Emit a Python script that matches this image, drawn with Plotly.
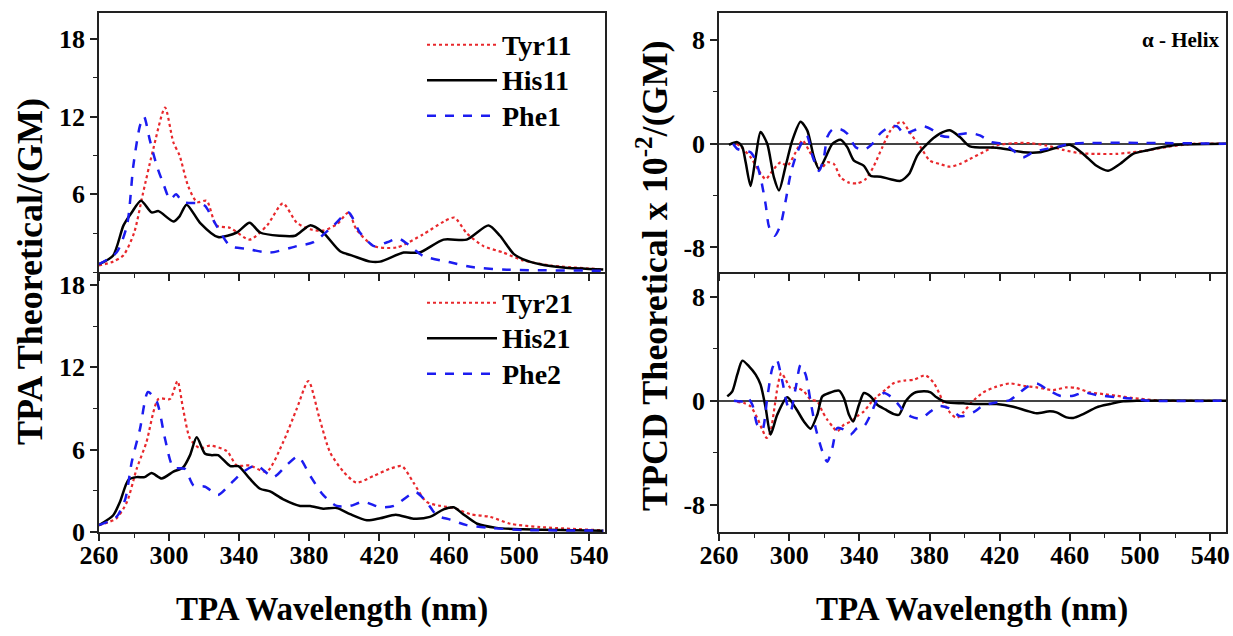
import plotly.graph_objects as go

# ---------------- data (TPA, left column) ----------------
tyr11_x = [260,268,274,280,285,291,297.7,302.5,306,311,316,321.5,327,335,346,356,365,373,380.5,388,396,402.5,407,417,430,445,457,463,470,479.6,491,502,518,548]
tyr11_y = [0.5,0.8,1.3,3,6,9.5,12.7,10,9,6.6,5.4,5.5,3.6,3.4,2.5,3.6,5.3,3.8,3.3,3.2,3.7,4.6,3.3,2.0,1.9,2.9,3.9,4.2,3.0,2.0,1.5,0.9,0.5,0.2]
his11_x = [260,268,274,278.7,284,290,294,302.5,306,310,317.7,328,338.7,346,352,363,372,380.5,388,397.7,405,415,420.6,434,443,456.8,470,482.5,489,496.8,502,512,525,548]
his11_y = [0.6,1.25,3.6,4.6,5.5,4.6,4.7,3.9,4.3,5.2,3.8,2.7,3.05,3.8,3.05,2.8,2.8,3.6,3.05,1.6,1.25,0.8,0.8,1.5,1.5,2.5,2.5,3.6,2.8,1.4,1.0,0.6,0.35,0.2]
phe1_x = [260,270,276,279.6,283.4,285.7,289,293,296.8,300.6,304,308,317.7,320.6,327,335,344,357.7,373,382.5,394,402.5,409,417,424.6,431,437.7,445,460.6,474,493,548]
phe1_y = [0.6,1.5,3.6,8.2,11.3,12.0,10.2,8.2,6.8,5.6,6.0,5.4,5.3,5.1,3.6,2.0,1.8,1.5,2.0,2.3,3.6,4.6,3.05,2.0,2.3,2.6,2.0,1.25,0.75,0.36,0.18,0.1]

tyr21_x = [260,270,276,281.5,287,294,300.6,304.8,308,312,317.7,323.4,333,338.7,346,355.8,365,373,379.6,386,392,399.6,407,417,426,433,439.6,447,455,462.6,472,483.4,495,512,548]
tyr21_y = [0.5,1.0,2.2,4.6,6.5,9.7,9.7,11.0,9.0,6.8,6.1,6.3,5.9,4.85,4.85,4.4,6.5,9.0,11.0,8.25,5.8,4.4,3.6,4.1,4.6,4.8,3.6,2.2,1.9,1.75,1.3,1.1,0.6,0.36,0.12]
his21_x = [260,268,272,276.8,281.5,286,290,295.8,302.5,308,312,315.8,320.6,324.4,328,335,339.6,346,352,357.7,365,374.9,380.6,388,395.8,403.4,413,420.6,429.5,439.6,449,456.8,462.6,468,476,487,502,548]
his21_y = [0.5,1.2,2.2,3.8,4.0,4.0,4.3,3.9,4.4,4.7,5.6,6.9,5.7,5.6,5.6,4.8,4.8,3.9,3.15,2.96,2.4,1.9,1.9,1.7,1.75,1.3,0.85,1.0,1.26,0.97,1.1,1.65,1.8,1.3,0.6,0.3,0.2,0.1]
phe2_x = [260,270,275,278.7,283.4,288,293,297.7,302.5,309,314,320.6,328,335,342.5,350,359.5,367,373.7,380.6,388,395.8,403.4,411,420.6,428.4,440.8,447,453,460.6,470,483.4,502,548]
phe2_y = [0.5,1.1,2.4,5.1,7.5,10.2,9.5,6.8,4.7,4.6,3.4,3.3,2.7,3.5,4.4,4.85,4.0,4.85,5.5,4.1,2.7,1.9,1.9,2.2,1.8,1.9,2.9,2.2,1.2,0.9,0.5,0.3,0.15,0.1]

# ---------------- data (TPCD, right column, x 10^-2) ----------------
cd_his1_x = [265.7,270.4,273.3,275.2,278,280.9,283.7,287.5,291.3,294.2,298,301.8,306.5,310.3,314.1,317,320.8,324.6,329.3,333.1,336.9,342.6,346.4,352.1,357.8,363.5,368.3,373,378.7,385.9,391.6,397.3,403,418.2,425.8,433.4,442.9,452.4,460,467.6,475.2,481.8,488.5,496,503.7,520,549]
cd_his1_y = [-0.08,0.13,-0.26,-1.43,-3.26,-1.04,0.91,0,-2.6,-3.6,-1.7,0.26,1.7,1.04,-1.04,-1.95,-1.04,0,0.31,-0.26,-1.3,-1.7,-2.47,-2.55,-2.73,-2.86,-2.34,-0.91,0,0.78,1.04,0.52,-0.2,-0.3,-0.47,-0.65,-0.65,-0.3,-0.08,-0.78,-1.7,-2.08,-1.56,-0.78,-0.52,-0.1,0]
cd_phe1_x = [268,270.4,273.3,278,280.9,283.7,286.6,288.5,291.7,295.1,298,300.8,304.6,310,313.2,317,319.8,321.7,324.6,329.3,333.1,337.9,342.6,347.4,352.1,357.8,361.6,365.4,371.1,376.8,382.5,385.9,391.6,397.3,403,408.7,415.3,422,427.7,433.4,439.1,446.7,454.3,460,549]
cd_phe1_y = [0,-0.39,-0.52,-0.65,-1.3,-2.6,-4.7,-6.4,-7.1,-6.25,-4.4,-2.34,-0.65,0.65,-0.91,-2.1,-1.04,0.52,1.1,1.12,0.78,-0.26,-0.47,0,0.83,1.35,1.35,0.78,1.04,1.35,1.0,0.65,0.52,0.73,0.83,0.65,0.13,0,-0.52,-1.04,-0.65,-0.39,-0.2,0,0]
cd_tyr1_x = [270,272.3,278,282.8,286.6,290.4,295.1,298.9,303.7,307.5,311.3,315.1,317.9,321.7,325.5,329.3,334.1,338.8,343.6,348.3,353.1,357.8,361.6,364.5,369.2,374.9,380.2,385.9,391.6,397.3,403,410.6,418.2,427.7,437.2,446.7,456.2,465.7,475.2,486.6,496,503.7,515,530,549]
cd_tyr1_y = [0,-0.2,-1.04,-2.1,-2.73,-2.1,-1.43,-1.7,-0.65,0.26,-0.52,-1.43,-1.95,-1.43,-1.56,-2.6,-3.0,-3.05,-2.73,-1.7,-0.26,1.04,1.56,1.7,0.78,-0.26,-1.3,-1.56,-1.77,-1.56,-1.17,-0.65,-0.13,0.05,0.05,-0.13,-0.47,-0.73,-0.78,-0.78,-0.65,-0.52,-0.25,0,0]

cd_his2_x = [264.7,267.6,270.4,273.3,277.1,280.9,283.7,286.6,289.4,293.2,298.9,303.7,308.4,312.2,316,318.9,322.7,328.4,331.2,334.1,336.5,339.8,342.6,346.4,350.2,355,359.7,362.6,366.4,371.1,376.8,380.6,384,389.7,399.2,408.7,418.2,427.7,435.3,441,448.6,452.4,458.1,461.9,467.6,475.2,482.8,490.4,498,549]
cd_his2_y = [0.33,0.72,2.0,3.08,2.64,2.0,1.23,-0.56,-2.6,-1.08,0.26,-0.56,-1.6,-2.15,-1.08,0.33,0.59,0.77,0.2,-1.08,-1.6,-0.31,0.59,0.33,-0.31,-0.69,-1.03,-1.08,-0.05,0.59,0.72,0.64,0.26,-0.13,-0.2,-0.26,-0.26,-0.46,-0.77,-0.97,-0.82,-0.9,-1.28,-1.33,-1.03,-0.51,-0.26,-0.05,0,0]
cd_phe2_x = [268.5,273.3,276.1,279,281.8,284.7,287.5,290.4,292.9,296.1,298.9,300.8,303.7,306.5,309.4,312.2,315.1,318.9,321.7,324.6,327.4,331.2,335,338.8,342.6,346.4,350.2,354,357.8,361.6,365.4,369.2,374.9,380.6,385.4,391,397.6,404.9,410.6,418.2,425.8,431.5,435.3,441,446.7,454.3,461.9,467.6,475.2,486.6,498,505,549]
cd_phe2_y = [0,-0.05,0.26,-0.31,-1.85,-2.23,0.2,2.5,3.15,1.49,-0.31,-0.82,0.97,2.77,2.0,-0.05,-2.1,-3.9,-4.7,-3.64,-2.1,-2.23,-2.6,-2.1,-1.97,-1.08,0.08,0.59,0.33,-0.18,-0.82,-1.2,-1.38,-0.82,-0.4,-0.57,-1.2,-0.9,-0.38,-0.13,0.05,0.64,1.03,1.33,0.9,0.38,0.38,0.64,0.44,0.26,0.13,0,0]
cd_tyr2_x = [270.4,274.2,278,281.8,284.7,287.2,289.4,291.3,293.6,295.5,298,300.8,304.6,308.4,312.2,316,318.9,321.7,324.6,327.4,331.2,335,338.8,342.6,346.4,350.2,355,359.7,365.4,371.1,377.7,382.5,385.9,387.8,391.6,395.4,399.2,404,410.6,418.2,425.8,433.4,441,450.5,458.1,463.8,471.4,479,486.6,496.1,503.7,512,549]
cd_tyr2_y = [-0.1,-0.18,-0.44,-1.33,-2.23,-2.87,-2.36,-0.82,1.23,2.13,1.62,0.97,0.97,0.72,0.08,-0.05,-0.82,-1.46,-1.97,-2.36,-1.85,-1.6,-1.2,-0.82,-0.18,0.33,0.85,1.36,1.54,1.62,1.95,1.36,0.46,-0.13,-0.9,-1.33,-0.9,-0.13,0.64,1.08,1.33,1.15,1.03,0.82,1.03,0.97,0.64,0.51,0.38,0.2,0.1,0,0]

x_ticks = [260, 300, 340, 380, 420, 460, 500, 540]
tpa_ticks_top = [6, 12, 18]
tpa_ticks = [0, 6, 12, 18]
tpcd_ticks = [-8, 0, 8]

# ---------------- styles ----------------
FONT = "Liberation Serif"
RED, BLACK, BLUE = "#e8282c", "#000000", "#1c1cf0"
sty = {
    "Tyr": dict(color=RED, dash="dot", width=2.2),
    "His": dict(color=BLACK, dash="solid", width=2.5),
    "Phe": dict(color=BLUE, dash="dash", width=2.5),
}

fig = go.Figure()

def add(x, y, kind, name, xa, ya, legend=None):
    label = "<span style='font-size:28px'>%s</span>" % name
    fig.add_trace(go.Scatter(
        x=x, y=y, mode="lines", name=label,
        line=dict(shape="spline", smoothing=0.7, **sty[kind]),
        xaxis=xa, yaxis=ya,
        showlegend=legend is not None, legend=legend or "legend",
    ))

add(tyr11_x, tyr11_y, "Tyr", "Tyr11", "x", "y", "legend")
add(his11_x, his11_y, "His", "His11", "x", "y", "legend")
add(phe1_x, phe1_y, "Phe", "Phe1", "x", "y", "legend")
add(tyr21_x, tyr21_y, "Tyr", "Tyr21", "x2", "y2", "legend2")
add(his21_x, his21_y, "His", "His21", "x2", "y2", "legend2")
add(phe2_x, phe2_y, "Phe", "Phe2", "x2", "y2", "legend2")
add(cd_tyr1_x, cd_tyr1_y, "Tyr", "Tyr11", "x3", "y3")
add(cd_his1_x, cd_his1_y, "His", "His11", "x3", "y3")
add(cd_phe1_x, cd_phe1_y, "Phe", "Phe1", "x3", "y3")
add(cd_tyr2_x, cd_tyr2_y, "Tyr", "Tyr21", "x4", "y4")
add(cd_his2_x, cd_his2_y, "His", "His21", "x4", "y4")
add(cd_phe2_x, cd_phe2_y, "Phe", "Phe2", "x4", "y4")

W, H = 1233, 636
def px(v): return v / W
def py(v): return (H - v) / H

LEFT = [px(99), px(605)]
RIGHT = [px(719), px(1226)]
TOP = [py(272), py(13)]
BOT = [py(532), py(272)]

tickfont = dict(family=FONT, size=26, color="black", weight="bold")
axcommon = dict(showline=True, linecolor="#222", linewidth=1.5,
                ticks="outside", ticklen=7, tickwidth=1.5, tickcolor="#222",
                showgrid=False, tickfont=tickfont, automargin=False)

def bold(vals):
    return ["<b>%s</b>" % v for v in vals]

def xax(domain, anchor, labels, mirror):
    return dict(domain=domain, anchor=anchor, range=[260, 549], mirror=mirror,
                tickmode="array", tickvals=x_ticks, ticktext=bold(x_ticks),
                showticklabels=labels, zeroline=False, ticklabelstandoff=-8,
                minor=dict(ticks="outside", ticklen=4, tickwidth=1.2, dtick=20, tick0=260, tickcolor="#222"),
                **axcommon)

def yax(domain, anchor, rng, vals, mdt, zl):
    return dict(domain=domain, anchor=anchor, range=rng, mirror=True,
                tickmode="array", tickvals=vals, ticktext=bold(vals),
                zeroline=zl, zerolinecolor="#444", zerolinewidth=1.6,
                minor=dict(ticks="outside", ticklen=4, tickwidth=1.2, dtick=mdt, tick0=0, tickcolor="#222"),
                **axcommon)

legfont = dict(family=FONT, size=25, color="black", weight="bold")
fig.update_layout(
    width=W, height=H,
    margin=dict(l=0, r=0, t=0, b=0),
    paper_bgcolor="white", plot_bgcolor="white",
    font=dict(family=FONT, color="black", weight="bold"),
    xaxis=xax(LEFT, "y", False, True),
    yaxis=yax(TOP, "x", [0, 20], tpa_ticks_top, 3, False),
    xaxis2=xax(LEFT, "y2", True, False),
    yaxis2=yax(BOT, "x2", [0, 18.95], tpa_ticks, 3, False),
    xaxis3=xax(RIGHT, "y3", False, True),
    yaxis3=yax(TOP, "x3", [-9.9, 10.1], tpcd_ticks, 4, True),
    xaxis4=xax(RIGHT, "y4", True, False),
    yaxis4=yax(BOT, "x4", [-10.1, 9.9], tpcd_ticks, 4, True),
    legend=dict(x=px(422), y=py(22), xanchor="left", yanchor="top",
                bgcolor="rgba(0,0,0,0)", font=legfont, itemwidth=70, tracegroupgap=0),
    legend2=dict(x=px(422), y=py(280), xanchor="left", yanchor="top",
                 bgcolor="rgba(0,0,0,0)", font=legfont, itemwidth=70, tracegroupgap=0),
    showlegend=True,
)

title_font = dict(family=FONT, size=33, color="black", weight="bold")
vtitle_font = dict(family=FONT, size=36, color="black", weight="bold")
fig.add_annotation(text="TPA Theoretical/(GM)", xref="paper", yref="paper",
                   x=px(30), y=py(272), xanchor="center", yanchor="middle",
                   textangle=-90, showarrow=False, font=vtitle_font)
fig.add_annotation(text="TPCD Theoretical x 10<sup>-2</sup>/(GM)", xref="paper", yref="paper",
                   x=px(652), y=py(275), xanchor="center", yanchor="middle",
                   textangle=-90, showarrow=False, font=vtitle_font)
fig.add_annotation(text="TPA Wavelength (nm)", xref="paper", yref="paper",
                   x=px(332), y=py(609), xanchor="center", yanchor="middle",
                   showarrow=False, font=title_font)
fig.add_annotation(text="TPA Wavelength (nm)", xref="paper", yref="paper",
                   x=px(972), y=py(609), xanchor="center", yanchor="middle",
                   showarrow=False, font=title_font)
fig.add_annotation(text="α - Helix", xref="paper", yref="paper",
                   x=px(1181), y=py(40), xanchor="center", yanchor="middle",
                   showarrow=False, font=dict(family=FONT, size=21, color="black", weight="bold"))

fig.write_html("out.html", config={"displayModeBar": False},
               post_script="document.body.style.margin='0';document.body.style.overflow='hidden';")
